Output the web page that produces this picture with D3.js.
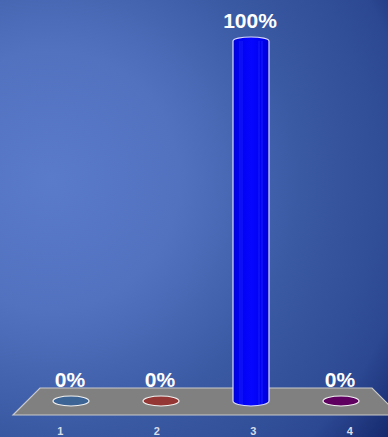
<!DOCTYPE html>
<html>
<head>
<meta charset="utf-8">
<script src="https://cdn.jsdelivr.net/npm/d3@7"></script>
<style>
  html, body { margin: 0; padding: 0; overflow: hidden; }
  svg { display: block; }
</style>
</head>
<body>
<svg id="chart" width="388" height="437"></svg>
<script>
// Answer shares per option (percent)
const categories = ["1", "2", "3", "4"];
const values = [0, 0, 100, 0];
const labels = ["0%", "0%", "100%", "0%"];
const colors = ["#3c6494", "#943634", "#0000f2", "#5f0060"];

const W = 388, H = 437;
const svg = d3.select("#chart");
const defs = svg.append("defs");

// background: soft radial light from the upper left
const bg = defs.append("radialGradient").attr("id", "bg")
  .attr("gradientUnits", "userSpaceOnUse")
  .attr("cx", 50).attr("cy", 180).attr("r", 430);
[[0, "#5a7bca"], [0.3, "#5272c0"], [0.58, "#3b5aa4"], [0.85, "#2c4892"], [1, "#13266a"]]
  .forEach(([o, c]) => bg.append("stop").attr("offset", o).attr("stop-color", c));
svg.append("rect").attr("width", W).attr("height", H).attr("fill", "url(#bg)");

// cylinder shading
const cyl = defs.append("linearGradient").attr("id", "cyl")
  .attr("x1", 0).attr("x2", 1).attr("y1", 0).attr("y2", 0);
[[0, "#0000d6"], [0.18, "#0000f2"], [0.5, "#0606ff"], [0.82, "#0000f0"], [1, "#0000d0"]]
  .forEach(([o, c]) => cyl.append("stop").attr("offset", o).attr("stop-color", c));

// scales
const x = d3.scaleBand().domain(categories).range([26, 386]).padding(0);
const xFront = d3.scaleBand().domain(categories).range([12, 398]).padding(0);
const y = d3.scaleLinear().domain([0, 100]).range([401, 41]);

const rx = 18, ry = 5;
const floorTop = 388, floorBottom = 415;
const depth = floorBottom - floorTop;

// floor plane
const fx0 = x.range()[0] + 14, fx1 = x.range()[1] - 14;
svg.append("path")
  .attr("d", `M${fx0},${floorTop} L${fx1},${floorTop} L${fx1 + depth},${floorBottom} L${fx0 - depth},${floorBottom} Z`)
  .attr("fill", "#808080")
  .attr("stroke", "#c9c9c9")
  .attr("stroke-width", 1.2);

// columns
const g = svg.append("g");
categories.forEach((c, i) => {
  const cx = x(c) + x.bandwidth() / 2;
  const y0 = y(0), y1 = y(values[i]);
  const col = g.append("g");
  if (values[i] > 0) {
    const fill = colors[i] === "#0000f2" ? "url(#cyl)" : colors[i];
    col.append("path")
      .attr("d", `M${cx - rx},${y1} A${rx},${ry - 1} 0 0 1 ${cx + rx},${y1} L${cx + rx},${y0} A${rx},${ry} 0 0 1 ${cx - rx},${y0} Z`)
      .attr("fill", fill)
      .attr("stroke", "#d8d8ff")
      .attr("stroke-width", 1.2);
    // faint highlight stripes along the body
    [-11, -9, 8, 11].forEach(dx => {
      col.append("line")
        .attr("x1", cx + dx).attr("x2", cx + dx)
        .attr("y1", y1).attr("y2", y0 + ry - 1)
        .attr("stroke", "#5a6cff").attr("stroke-opacity", 0.35).attr("stroke-width", 0.8);
    });
  } else {
    col.append("ellipse")
      .attr("cx", cx).attr("cy", y0).attr("rx", rx).attr("ry", ry)
      .attr("fill", colors[i])
      .attr("stroke", "#f0f0f0")
      .attr("stroke-width", 1.2);
  }
  // value label
  svg.append("text")
    .attr("x", cx - 1)
    .attr("y", values[i] > 0 ? y1 - 13 : floorTop - 1)
    .attr("text-anchor", "middle")
    .attr("font-family", "Liberation Sans, Arial, sans-serif")
    .attr("font-weight", "bold")
    .attr("font-size", 21)
    .attr("fill", "#ffffff")
    .text(labels[i]);
});

// category axis along the front edge of the floor
const axis = d3.axisBottom(xFront).tickSize(0).tickPadding(0);
const ax = svg.append("g").attr("transform", `translate(0,${H - 10})`).call(axis);
ax.select(".domain").remove();
ax.selectAll("text")
  .attr("dy", "0.71em")
  .attr("font-family", "Liberation Sans, Arial, sans-serif")
  .attr("font-weight", "bold")
  .attr("font-size", 11)
  .attr("fill", "#d8dde8");
</script>
</body>
</html>
